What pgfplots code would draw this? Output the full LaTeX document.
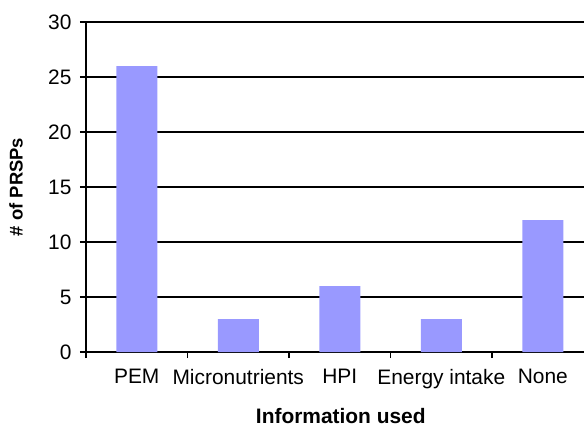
\documentclass[border=0pt]{standalone}
\usepackage{fontspec}
\setmainfont{Liberation Sans}
\usepackage{pgfplots}
\pgfplotsset{compat=1.18}
\definecolor{barc}{HTML}{9999FF}
\begin{document}
\begin{tikzpicture}
\begin{axis}[
  scale only axis, width=498bp, height=330bp,
  axis x line*=bottom, axis y line*=left,
  axis line style={line width=1.6bp, black},
  xmin=-0.5, xmax=4.406, ymin=0, ymax=30,
  ytick={0,5,...,30},
  ymajorgrids, grid style={black, line width=1.3bp},
  xtick={0,...,4},
  xticklabels={PEM,Micronutrients,HPI,Energy intake,None},
  major x tick style={draw=none},
  minor xtick={-0.5,0.5,1.5,2.5,3.5},
  tick align=outside,
  major tick length=6bp, minor tick length=6bp,
  tick style={black, line width=1.3bp},
  /pgf/number format/assume math mode=true,
  ticklabel style={font=\fontsize{21}{24}\selectfont},
  xticklabel style={yshift=-8bp},
  yticklabel style={xshift=-5bp},
  ylabel={\bfseries \# of PRSPs},
  ylabel style={at={(axis description cs:-0.1406,0.5)}, anchor=center, font=\fontsize{18.5}{22}\selectfont},
  clip=false,
]
\addplot[ybar, bar width=41bp, fill=barc, draw=none] coordinates {(0,26) (1,3) (2,6) (3,3) (4,12)};
\coordinate (ll) at (rel axis cs:0,0);
\coordinate (ur) at (rel axis cs:1,1);
\node[font=\fontsize{21}{24}\selectfont\bfseries, anchor=base] at (axis cs:2.01,0) [yshift=-71bp] {Information used};
\end{axis}
\pgfresetboundingbox
\path ([xshift=-86bp,yshift=-74bp]ll) rectangle ([yshift=22bp]ur);
\end{tikzpicture}
\end{document}
